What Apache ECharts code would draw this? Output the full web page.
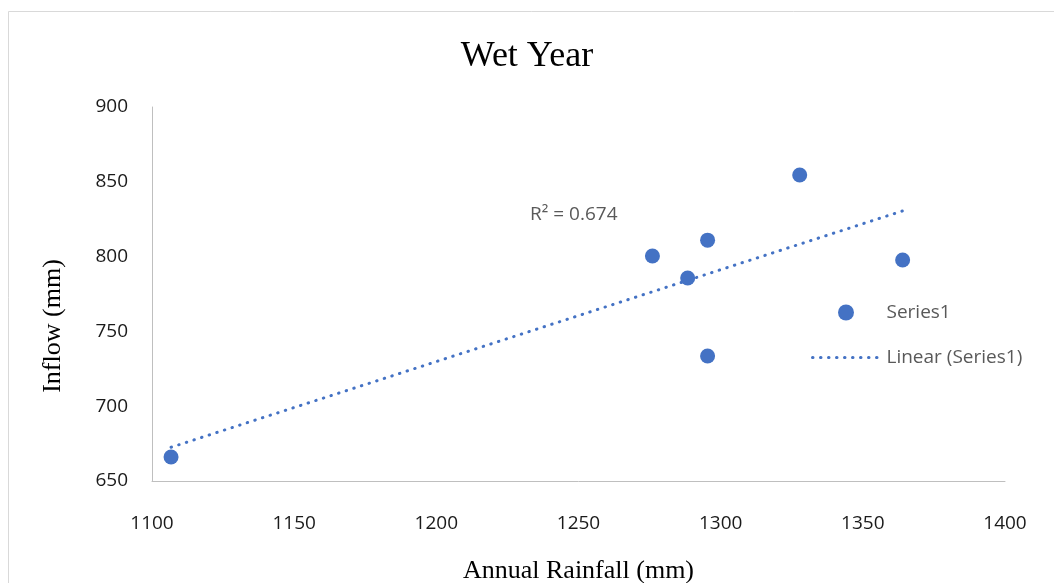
<!DOCTYPE html>
<html>
<head>
<meta charset="utf-8">
<script src="https://cdn.jsdelivr.net/npm/echarts@6/dist/echarts.min.js"></script>
<style>html,body{margin:0;padding:0;background:#fff}#c{width:1054px;height:583px}</style>
</head>
<body>
<div id="c"></div>
<script>
const titleText = 'Wet Year';
const xName = 'Annual Rainfall (mm)';
const yName = 'Inflow (mm)';
const seriesName = 'Series1';
const trendName = 'Linear (Series1)';
const r2Text = 'R² = 0.674';
const rainfall = [1106.7, 1276, 1288.4, 1295.4, 1295.4, 1327.8, 1364];
const inflow = [666, 800.4, 785.7, 811, 733.6, 854.5, 797.7];

const pts = rainfall.map((x, i) => [x, inflow[i]]);
const n = rainfall.length;
const mx = rainfall.reduce((a, b) => a + b, 0) / n;
const my = inflow.reduce((a, b) => a + b, 0) / n;
let sxy = 0, sxx = 0;
for (let i = 0; i < n; i++) { sxy += (rainfall[i] - mx) * (inflow[i] - my); sxx += (rainfall[i] - mx) ** 2; }
const slope = sxy / sxx, icpt = my - slope * mx;
const xmin = Math.min(...rainfall), xmax = Math.max(...rainfall);
const trend = [[xmin, icpt + slope * xmin], [xmax, icpt + slope * xmax]];

const blue = '#4472C4';
const chart = echarts.init(document.getElementById('c'));
chart.setOption({
  animation: false,
  backgroundColor: '#fff',
  title: {
    text: titleText, left: 'center', top: 34,
    textStyle: { fontFamily: 'Liberation Serif', fontSize: 36, fontWeight: 'normal', color: '#000' }
  },
  grid: { left: 152, top: 107, right: 49, bottom: 102, containLabel: false, outerBoundsMode: 'none' },
  xAxis: {
    type: 'value', min: 1100, max: 1400, interval: 50,
    name: xName, nameLocation: 'middle', nameGap: 77,
    nameTextStyle: { fontFamily: 'Liberation Serif', fontSize: 26, color: '#000' },
    axisLine: { show: true, lineStyle: { color: '#bfbfbf', width: 1 } },
    axisTick: { show: false },
    splitLine: { show: false },
    axisLabel: { margin: 33, fontFamily: 'Open Sans', fontSize: 19, color: '#1a1a1a', formatter: v => String(v) }
  },
  yAxis: {
    type: 'value', min: 650, max: 900, interval: 50,
    name: yName, nameLocation: 'middle', nameGap: 86,
    nameTextStyle: { fontFamily: 'Liberation Serif', fontSize: 26, color: '#000', padding: [0, 64, 0, 0] },
    axisLine: { show: true, lineStyle: { color: '#bfbfbf', width: 1 } },
    axisTick: { show: false },
    splitLine: { show: false },
    axisLabel: { margin: 24, fontFamily: 'Open Sans', fontSize: 19, color: '#1a1a1a', padding: [6, 0, 0, 0], formatter: v => String(v) }
  },
  legend: {
    orient: 'vertical', left: 806, top: 298,
    itemWidth: 67, itemHeight: 16, itemGap: 26,
    textStyle: { fontFamily: 'Open Sans', fontSize: 19, color: '#595959', padding: [0, 0, 0, 2] },
    data: [
      { name: seriesName },
      { name: trendName, itemStyle: { opacity: 0 }, lineStyle: { color: blue, width: 3, type: [0.5, 7.5], cap: 'round', opacity: 1 } }
    ]
  },
  graphic: [
    { type: 'rect', silent: true, z: -10,
      shape: { x: 8.5, y: 11.5, width: 1100, height: 700 }, style: { fill: 'none', stroke: '#d9d9d9', lineWidth: 1 } },
    { type: 'text', left: 530, top: 205,
      style: { text: r2Text, font: '19px "Open Sans"', fill: '#595959' } }
  ],
  series: [
    { name: seriesName, type: 'scatter', data: pts, symbol: 'circle', symbolSize: 15,
      itemStyle: { color: blue, opacity: 1 }, z: 3 },
    { name: trendName, type: 'line', data: trend, symbol: 'none', z: 2,
      lineStyle: { color: blue, width: 3, type: [0.5, 7.5], cap: 'round' },
      itemStyle: { color: blue } }
  ]
});
</script>
</body>
</html>
